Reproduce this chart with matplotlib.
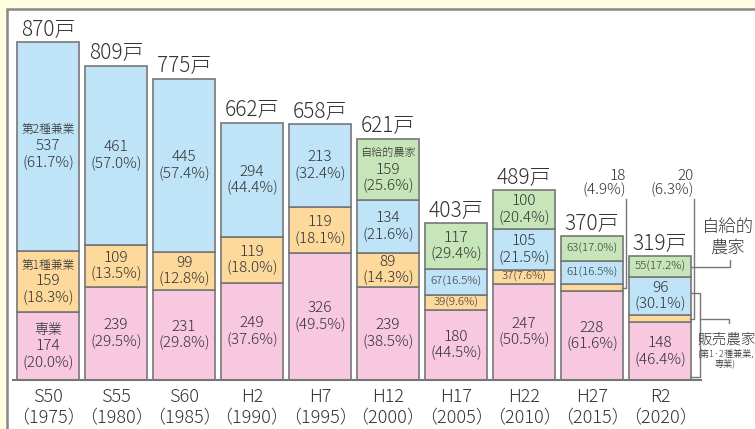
import matplotlib
matplotlib.use("Agg")
import matplotlib.pyplot as plt
from matplotlib.patches import Rectangle
from matplotlib import font_manager

plt.rcParams['font.family'] = ['Noto Sans CJK JP', 'DejaVu Sans']
plt.rcParams['font.weight'] = 'light'
print(sorted({(f.name, f.weight) for f in font_manager.fontManager.ttflist if 'Noto Sans CJK JP' in f.name or 'Lato' in f.name}))

cats = ['S50', 'S55', 'S60', 'H2', 'H7', 'H12', 'H17', 'H22', 'H27', 'R2']
years = ['1975', '1980', '1985', '1990', '1995', '2000', '2005', '2010', '2015', '2020']
totals = [870, 809, 775, 662, 658, 621, 403, 489, 370, 319]

sengyo = [174, 239, 231, 249, 326, 239, 180, 247, 228, 148]      # 専業
ken1 = [159, 109, 99, 119, 119, 89, 39, 37, 18, 20]              # 第1種兼業
ken2 = [537, 461, 445, 294, 213, 134, 67, 105, 61, 96]           # 第2種兼業
jikyu = [0, 0, 0, 0, 0, 159, 117, 100, 63, 55]                   # 自給的農家

pct_sengyo = [20.0, 29.5, 29.8, 37.6, 49.5, 38.5, 44.5, 50.5, 61.6, 46.4]
pct_ken1 = [18.3, 13.5, 12.8, 18.0, 18.1, 14.3, 9.6, 7.6, 4.9, 6.3]
pct_ken2 = [61.7, 57.0, 57.4, 44.4, 32.4, 21.6, 16.5, 21.5, 16.5, 30.1]
pct_jikyu = [0, 0, 0, 0, 0, 25.6, 29.4, 20.4, 17.0, 17.2]

c_pink = '#f8c8e0'
c_orange = '#fdd99c'
c_blue = '#bfe4f8'
c_green = '#c6e6b9'
edge = '#777777'
txt = '#333333'

fig = plt.figure(figsize=(7.55, 4.29), dpi=100, facecolor='#fffee0')

ax = fig.add_axes([0, 0, 1, 1])
ax.set_axis_off()
ax.patch.set_alpha(0)
ax.set_xlim(-0.706, 10.397)
ax.set_ylim(-126.1, 977.9)

# white panel behind everything
ax.add_patch(Rectangle((7 / 755, -0.1), 1.2, 1 - 9 / 429 + 0.1, transform=fig.transFigure,
                       facecolor='white', edgecolor='#888888', lw=1.8, zorder=-5, clip_on=False))

x = list(range(len(cats)))
w = 0.91
b1 = sengyo
b2 = [a + b for a, b in zip(sengyo, ken1)]
b3 = [a + b for a, b in zip(b2, ken2)]

ax.bar(x, sengyo, w, color=c_pink, edgecolor=edge, lw=1.2)
ax.bar(x, ken1, w, bottom=b1, color=c_orange, edgecolor=edge, lw=1.2)
ax.bar(x, ken2, w, bottom=b2, color=c_blue, edgecolor=edge, lw=1.2)
jx = [i for i in x if jikyu[i] > 0]
ax.bar(jx, [jikyu[i] for i in jx], w, bottom=[b3[i] for i in jx],
       color=c_green, edgecolor=edge, lw=1.2)

ax.plot([-0.52, 9.6], [0, 0], color=edge, lw=1.5)


def seg_label(i, y0, h, val, pct, name=None, namesize=8.5):
    yc = y0 + h / 2
    if val < 25:
        return
    if val < 70:
        ax.text(i, yc, f'{val}({pct:.1f}%)', ha='center', va='center', fontsize=8.3, color=txt)
        return
    lines = [(str(val), 11), (f'({pct:.1f}%)', 11)]
    if name:
        lines.insert(0, (name, namesize))
    n = len(lines)
    step = 11.8
    for k, (s, fs) in enumerate(lines):
        off = ((n - 1) / 2 - k) * step
        ax.annotate(s, (i, yc), xytext=(0, off), textcoords='offset points',
                    ha='center', va='center', fontsize=fs, color=txt)


for i in x:
    seg_label(i, 0, sengyo[i], sengyo[i], pct_sengyo[i], '専業' if i == 0 else None, 10)
    seg_label(i, b1[i], ken1[i], ken1[i], pct_ken1[i], '第1種兼業' if i == 0 else None)
    seg_label(i, b2[i], ken2[i], ken2[i], pct_ken2[i], '第2種兼業' if i == 0 else None)
    if jikyu[i] > 0:
        seg_label(i, b3[i], jikyu[i], jikyu[i], pct_jikyu[i], '自給的農家' if i == 5 else None, 8)
    ax.annotate(f'{totals[i]}戸', (i, totals[i]), xytext=(0, 1), textcoords='offset points',
                ha='center', va='bottom', fontsize=15, color=txt)
    ax.text(i, -44, cats[i], ha='center', va='center', fontsize=13, color=txt)
    ax.text(i, -98, f'（{years[i]}）', ha='center', va='center', fontsize=13, color=txt)

# small orange segments in H27 and R2 with call-out lines
for i in (8, 9):
    ym = b1[i] + ken1[i] / 2
    ax.plot([i + w / 2 - 0.02, i + 0.5, i + 0.5], [ym, ym, 466], color=edge, lw=1.0)
    ax.text(i + 0.5, 470, f'{ken1[i]}\n({pct_ken1[i]:.1f}%)', ha='right', va='bottom',
            fontsize=11, color=txt, linespacing=0.95, multialignment='right')

# 自給的農家 call-out (R2)
yg = b3[9] + jikyu[9] / 2
ax.plot([9 + w / 2, 10.03, 10.03], [yg, yg, yg + 18], color=edge, lw=1.0)
ax.text(10.0, 395, '自給的', ha='center', va='center', fontsize=12.5, color=txt)
ax.text(10.0, 340, '農家', ha='center', va='center', fontsize=12.5, color=txt)

# 販売農家 bracket (R2)
ytop = b2[9] + ken2[9] / 2 + 8
ybot = 8
ym = b1[9] + ken1[9] / 2
xb = 9.59
ax.plot([9 + w / 2, xb, xb, 9 + w / 2], [ytop, ytop, ybot, ybot], color=edge, lw=1.0)
ax.plot([xb, 10.01, 10.01], [ym, ym, ym - 11], color=edge, lw=1.0)
ax.text(9.98, 105, '販売農家', ha='center', va='center', fontsize=10.5, color=txt)
ax.text(9.96, 69, '(第1·2種兼業,', ha='center', va='center', fontsize=6.6, color=txt)
ax.text(9.96, 44, '専業)', ha='center', va='center', fontsize=6.6, color=txt)

fig.savefig('out.png', dpi=100, facecolor=fig.get_facecolor())
